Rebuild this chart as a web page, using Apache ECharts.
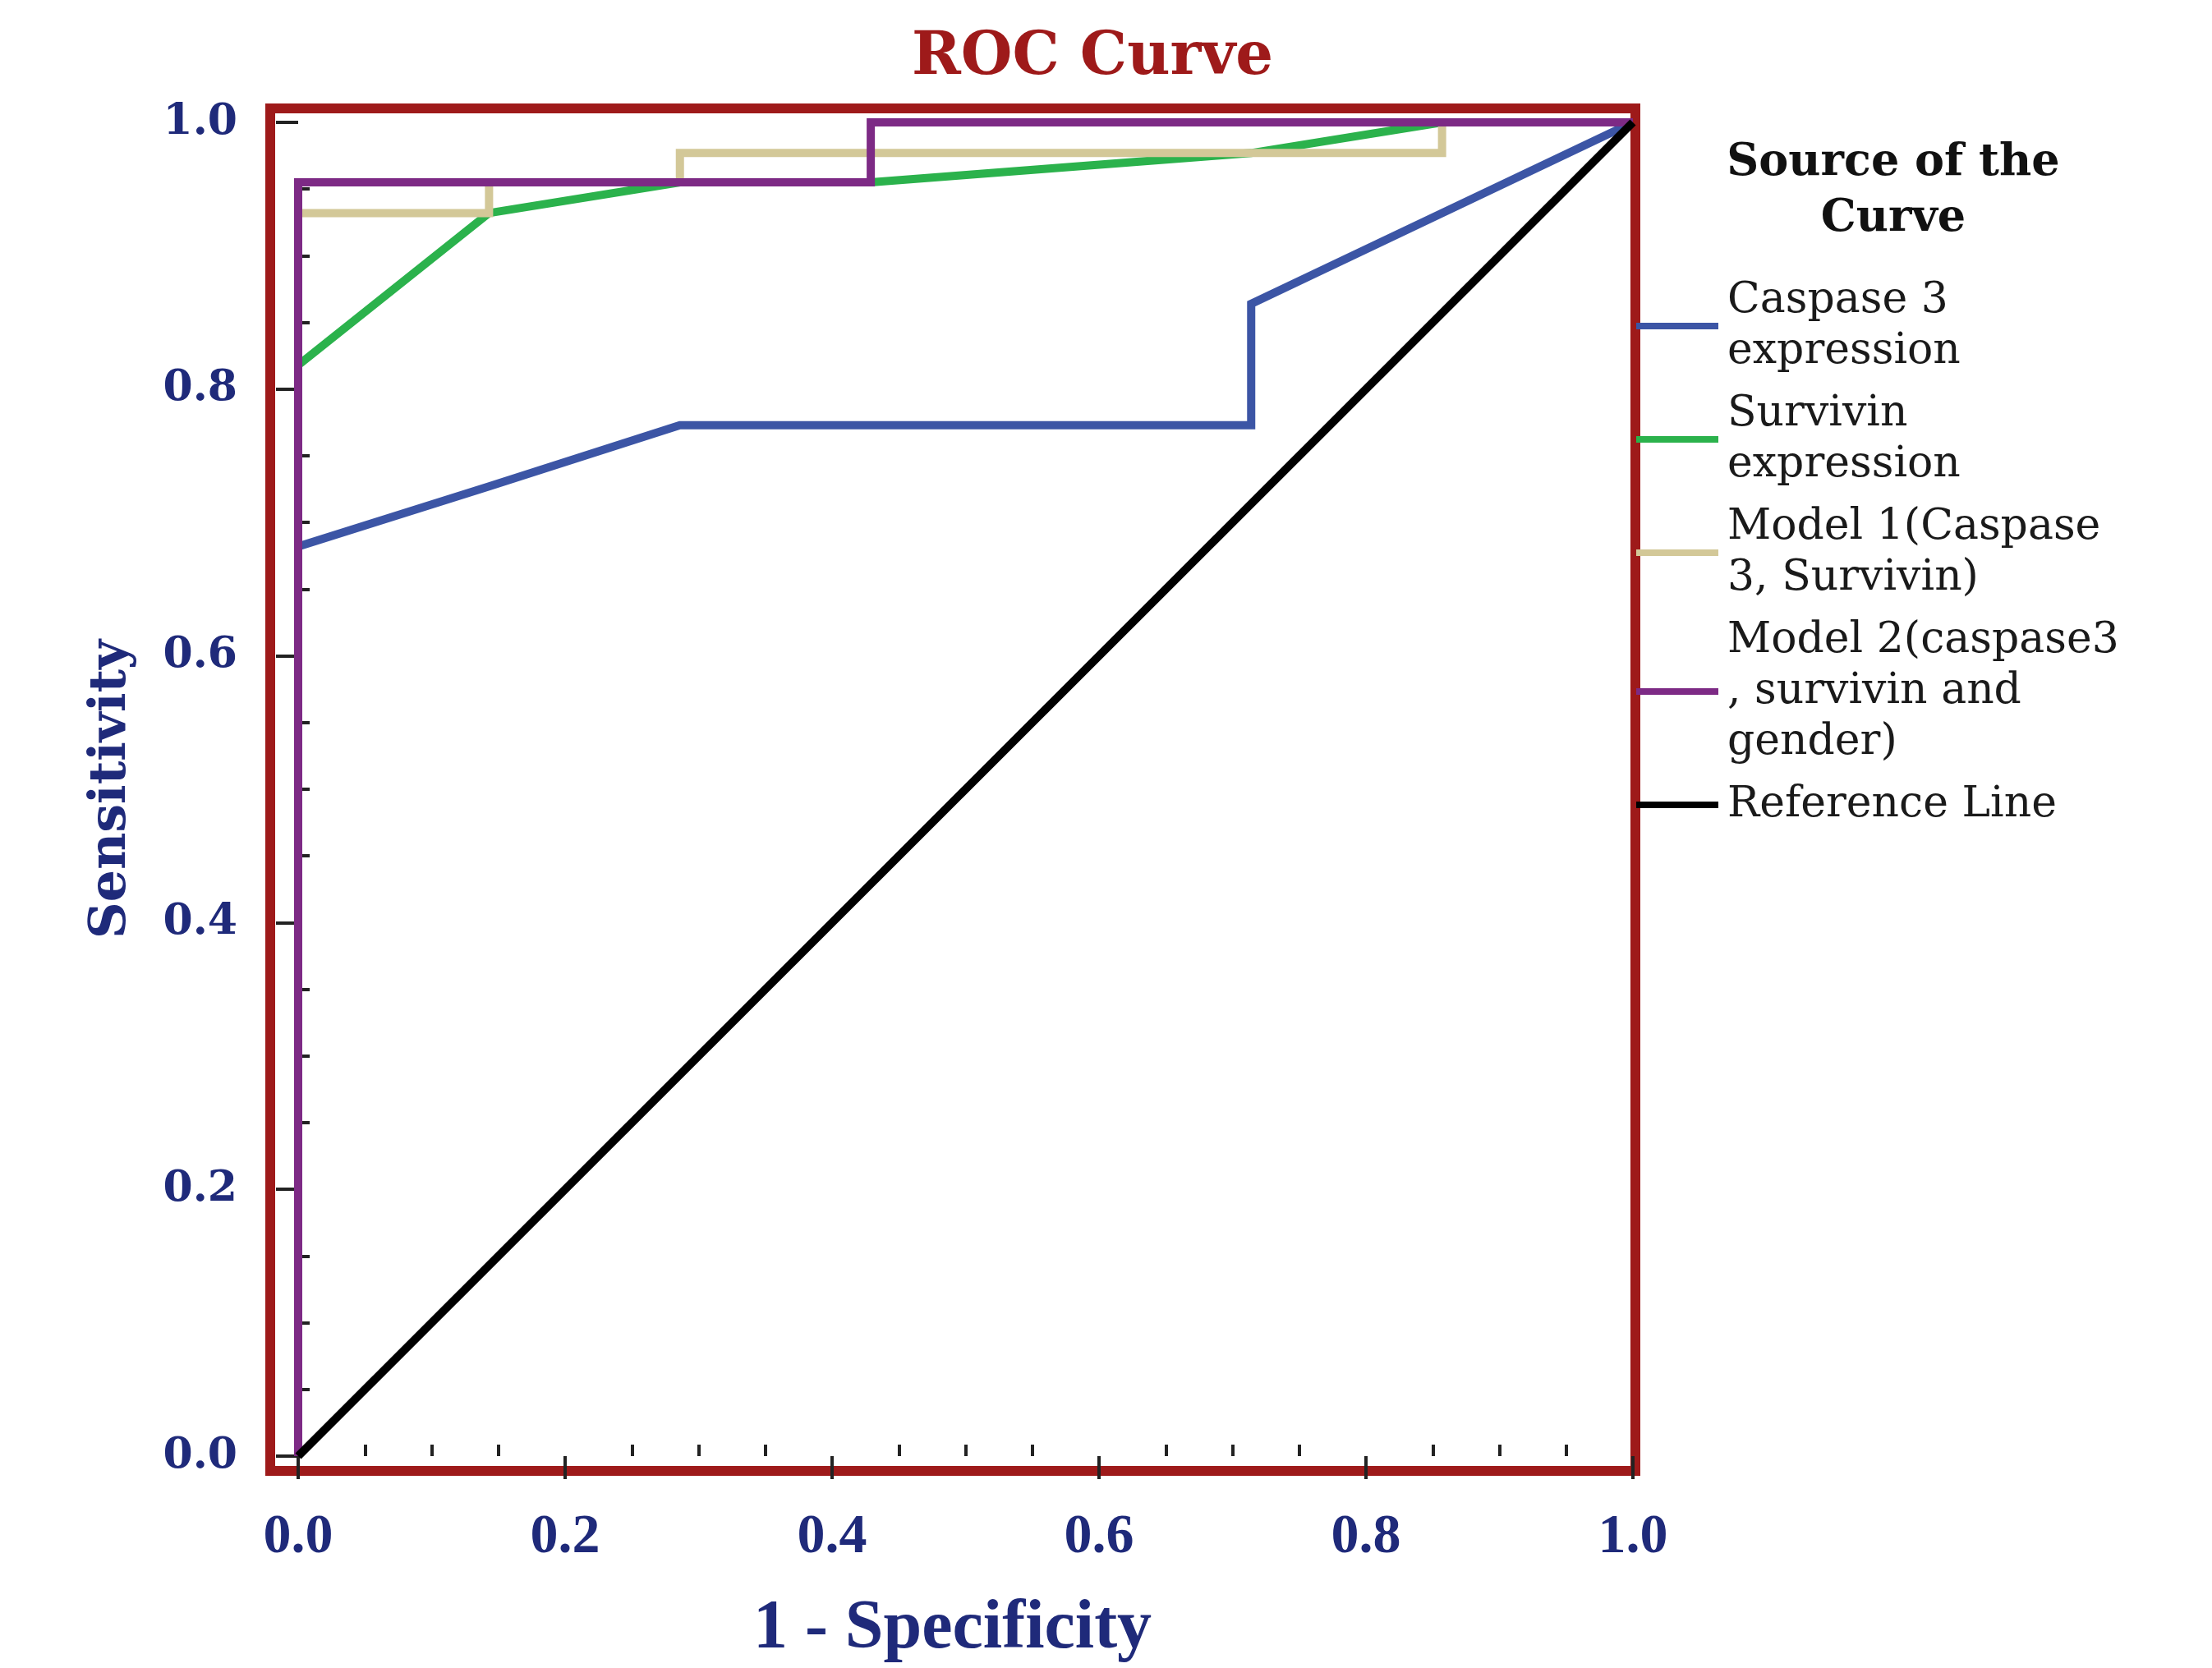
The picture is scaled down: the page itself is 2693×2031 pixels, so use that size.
<!DOCTYPE html>
<html>
<head>
<meta charset="utf-8">
<script src="https://cdn.jsdelivr.net/npm/echarts@6/dist/echarts.min.js"></script>
<style>
html,body{margin:0;padding:0;background:#fff;}
#chart{width:2693px;height:2031px;}
</style>
</head>
<body>
<div id="chart"></div>
<script>
// ---- data (1 - specificity, sensitivity) ----
const caspase3 = [[0,0],[0,0.682],[0.143,0.727],[0.286,0.773],[0.714,0.773],[0.714,0.864],[1,1]];
const survivin = [[0,0],[0,0.818],[0.143,0.932],[0.286,0.955],[0.429,0.955],[0.714,0.977],[0.857,1],[1,1]];
const model1 = [[0,0],[0,0.932],[0.143,0.932],[0.143,0.955],[0.286,0.955],[0.286,0.977],[0.857,0.977],[0.857,1],[1,1]];
const model2 = [[0,0],[0,0.955],[0.429,0.955],[0.429,1],[1,1]];
const referenceLine = [[0,0],[1,1]];

const seriesNames = ['Caspase 3 expression','Survivin expression','Model 1(Caspase 3, Survivin)','Model 2(caspase3 , survivin and gender)','Reference Line'];
const legendLabels = ['Caspase 3\nexpression','Survivin\nexpression','Model 1(Caspase\n3, Survivin)','Model 2(caspase3\n, survivin and\ngender)','Reference Line'];
const seriesColors = ['#3C55A5','#2BB24C','#D3C898','#7D2A85','#000000'];
const seriesData = [caspase3, survivin, model1, model2, referenceLine];
const tickFmt = v => v.toFixed(1);

const navy = '#1F2A7A';
const frameRed = '#9E1A1A';

const chart = echarts.init(document.getElementById('chart'), null, {renderer:'canvas'});
const option = {
  animation: false,
  backgroundColor: '#ffffff',
  title: [
    {text: 'ROC Curve', left: 1325, top: 30, textAlign: 'center',
     textStyle: {fontFamily: 'DejaVu Serif', fontWeight: 'bold', fontSize: 72, color: frameRed}},
    {text: 'Source of the\nCurve', left: 2300, top: 160, textAlign: 'center',
     textStyle: {fontFamily: 'DejaVu Serif', fontWeight: 'bold', fontSize: 54, lineHeight: 68, color: '#111'}}
  ],
  legend: {
    orient: 'vertical', left: 1987, top: 330, itemGap: 14,
    itemWidth: 100, itemHeight: 8, icon: 'rect', selectedMode: false,
    data: seriesNames,
    formatter: name => legendLabels[seriesNames.indexOf(name)],
    textStyle: {fontFamily: 'DejaVu Serif', fontSize: 52, lineHeight: 62, color: '#1a1a1a', padding: [0,0,0,6]}
  },
  grid: [
    {left: 329, top: 132, width: 1662, height: 1659, show: true, borderColor: frameRed, borderWidth: 12, backgroundColor: 'transparent'},
    {left: 363, top: 149, width: 1625, height: 1625}
  ],
  xAxis: [
    {gridIndex: 0, type: 'value', min: 0, max: 1, show: false},
    {gridIndex: 1, type: 'value', min: 0, max: 1, interval: 0.2, position: 'bottom', offset: 23,
     axisLine: {show: false}, splitLine: {show: false},
     axisTick: {show: true, length: 28, lineStyle: {color: '#222', width: 4}},
     axisLabel: {formatter: tickFmt, margin: 42, fontFamily: 'Liberation Serif', fontWeight: 'bold', fontSize: 68, color: navy},
     name: '1 - Specificity', nameLocation: 'middle', nameGap: 146,
     nameTextStyle: {fontFamily: 'Liberation Serif', fontWeight: 'bold', fontSize: 84, color: navy, padding: [0,32,0,0]}},
    {gridIndex: 1, type: 'value', min: 0, max: 1, interval: 0.2, position: 'bottom', offset: 11,
     axisLine: {show: false}, splitLine: {show: false}, axisLabel: {show: false},
     axisTick: {show: false, inside: true},
     minorTick: {show: true, splitNumber: 4, length: 14, lineStyle: {color: '#222', width: 4}}}
  ],
  yAxis: [
    {gridIndex: 0, type: 'value', min: 0, max: 1, show: false},
    {gridIndex: 1, type: 'value', min: 0, max: 1, interval: 0.2, position: 'left', offset: 40,
     axisLine: {show: false}, splitLine: {show: false},
     axisTick: {show: true, length: 27, lineStyle: {color: '#222', width: 4}},
     axisLabel: {formatter: tickFmt, margin: 34, fontFamily: 'DejaVu Serif', fontWeight: 'bold', fontSize: 52, color: navy},
     name: 'Sensitivity', nameLocation: 'middle', nameGap: 156, nameRotate: 90,
     nameTextStyle: {fontFamily: 'DejaVu Serif', fontWeight: 'bold', fontSize: 62, color: navy}},
    {gridIndex: 1, type: 'value', min: 0, max: 1, interval: 0.2, position: 'left', offset: 28,
     axisLine: {show: false}, splitLine: {show: false}, axisLabel: {show: false},
     axisTick: {show: false, inside: true},
     minorTick: {show: true, splitNumber: 4, length: 14, lineStyle: {color: '#222', width: 4}}}
  ],
  series: seriesNames.map((n, i) => ({
    name: n, type: 'line', xAxisIndex: 1, yAxisIndex: 1,
    data: seriesData[i], showSymbol: false, symbol: 'none', clip: false,
    color: seriesColors[i],
    lineStyle: {color: seriesColors[i], width: 10, join: 'miter', cap: 'butt'},
    z: 2 + i
  }))
};
chart.setOption(option);
</script>
</body>
</html>
